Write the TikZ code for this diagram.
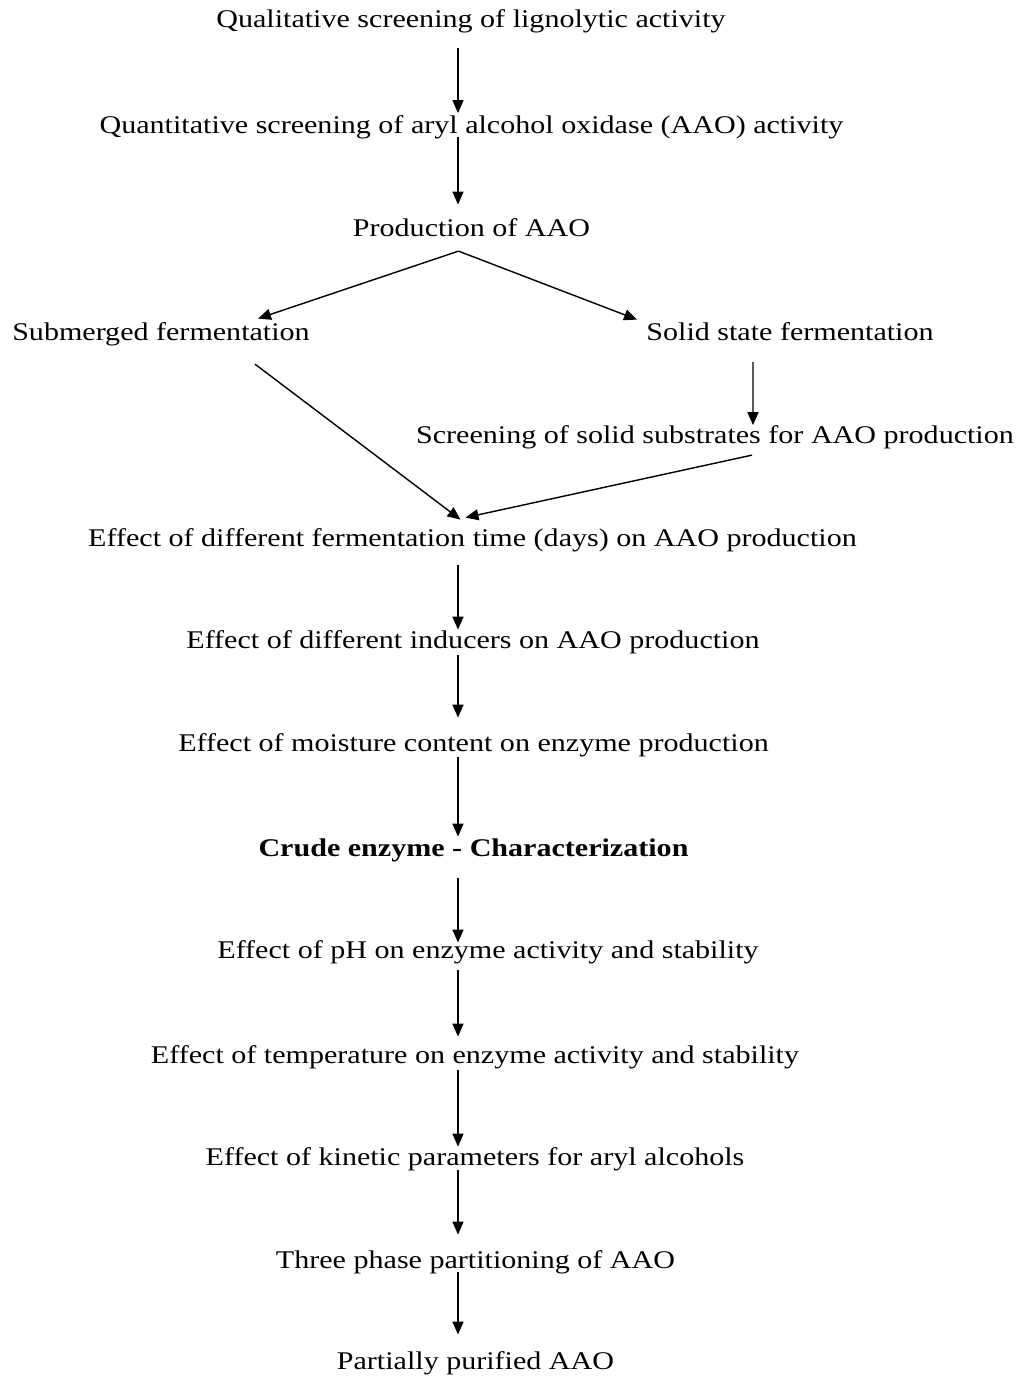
\documentclass[tikz,border=0pt]{standalone}
\usepackage{fontspec}
\setmainfont{Liberation Serif}[FakeStretch=1.18]
\usetikzlibrary{arrows.meta}
\tikzset{
	stage/.style={inner sep=0pt, anchor=base, text height=10pt, text depth=3pt, font=\fontsize{14.5}{17}\selectfont},
	flow/.style ={-{Triangle[length=2.6mm, width=2.2mm]}, line width=0.8pt},
}
\begin{document}
\begin{tikzpicture}[x=0.02cm, y=-0.02cm]
	\useasboundingbox (0,0) rectangle (1025,1377);
	\coordinate (spine) at (458,0);
	% screening and production
	\node[stage] (qual)  at (471,27)   {Qualitative screening of lignolytic activity};
	\node[stage] (quant) at (471.5,133) {Quantitative screening of aryl alcohol oxidase (AAO) activity};
	\node[stage] (prod)  at (471.5,236) {Production of AAO};
	\node[stage] (subm)  at (161,340)  {Submerged fermentation};
	\node[stage] (solid) at (790,340)  {Solid state fermentation};
	\node[stage] (subs)  at (715,443)  {Screening of solid substrates for AAO production};
	\node[stage] (time)  at (472.5,546) {Effect of different fermentation time (days) on AAO production};
	\node[stage] (ind)   at (473,648)  {Effect of different inducers on AAO production};
	\node[stage] (moist) at (473.5,751) {Effect of moisture content on enzyme production};
	% characterization
	\node[stage, font=\fontsize{14.5}{17}\selectfont\bfseries] (crude) at (473.5,856) {Crude enzyme - Characterization};
	\node[stage] (ph)    at (488,958)  {Effect of pH on enzyme activity and stability};
	\node[stage] (temp)  at (475,1063) {Effect of temperature on enzyme activity and stability};
	\node[stage] (kin)   at (475,1165) {Effect of kinetic parameters for aryl alcohols};
	\node[stage] (tpp)   at (475.5,1268) {Three phase partitioning of AAO};
	\node[stage] (pure)  at (475.5,1369) {Partially purified AAO};

	\draw[flow, shorten <=0.31cm, shorten >=0.04cm] (qual.south -| spine) -- (quant.north -| spine);
	\draw[flow, shorten <=-0.04cm, shorten >=0.27cm] (quant.south -| spine) -- (prod.north -| spine);
	\draw[flow] ([xshift=-0.26cm, yshift=-0.19cm]prod.south) -- ([xshift=1.94cm, yshift=0.07cm]subm.north);
	\draw[flow] ([xshift=-0.26cm, yshift=-0.19cm]prod.south) -- ([xshift=-3.06cm, yshift=0.05cm]solid.north);
	\draw[flow] ([xshift=-0.74cm, yshift=-0.33cm]solid.south) -- ([xshift=0.76cm]subs.north);
	\draw[flow] ([xshift=1.88cm, yshift=-0.37cm]subm.south) -- ([xshift=-0.24cm, yshift=0.17cm]time.north);
	\draw[flow] ([xshift=0.74cm, yshift=-0.13cm]subs.south) -- ([xshift=-0.14cm, yshift=0.21cm]time.north);
	\draw[flow, shorten <=0.27cm, shorten >=0.01cm] (time.south -| spine) -- (ind.north -| spine);
	\draw[flow, shorten <=0.03cm, shorten >=0.31cm] (ind.south -| spine) -- (moist.north -| spine);
	\draw[flow, shorten <=0.01cm, shorten >=0.03cm] (moist.south -| spine) -- (crude.north -| spine);
	\draw[flow, shorten <=0.33cm, shorten >=-0.05cm] (crude.south -| spine) -- (ph.north -| spine);
	\draw[flow, shorten <=0.13cm, shorten >=0.17cm] (ph.south -| spine) -- (temp.north -| spine);
	\draw[flow, shorten <=0.03cm, shorten >=0.01cm] (temp.south -| spine) -- (kin.north -| spine);
	\draw[flow, shorten <=-0.01cm, shorten >=0.31cm] (kin.south -| spine) -- (tpp.north -| spine);
	\draw[flow, shorten <=-0.04cm, shorten >=0.33cm] (tpp.south -| spine) -- (pure.north -| spine);
\end{tikzpicture}
\end{document}
